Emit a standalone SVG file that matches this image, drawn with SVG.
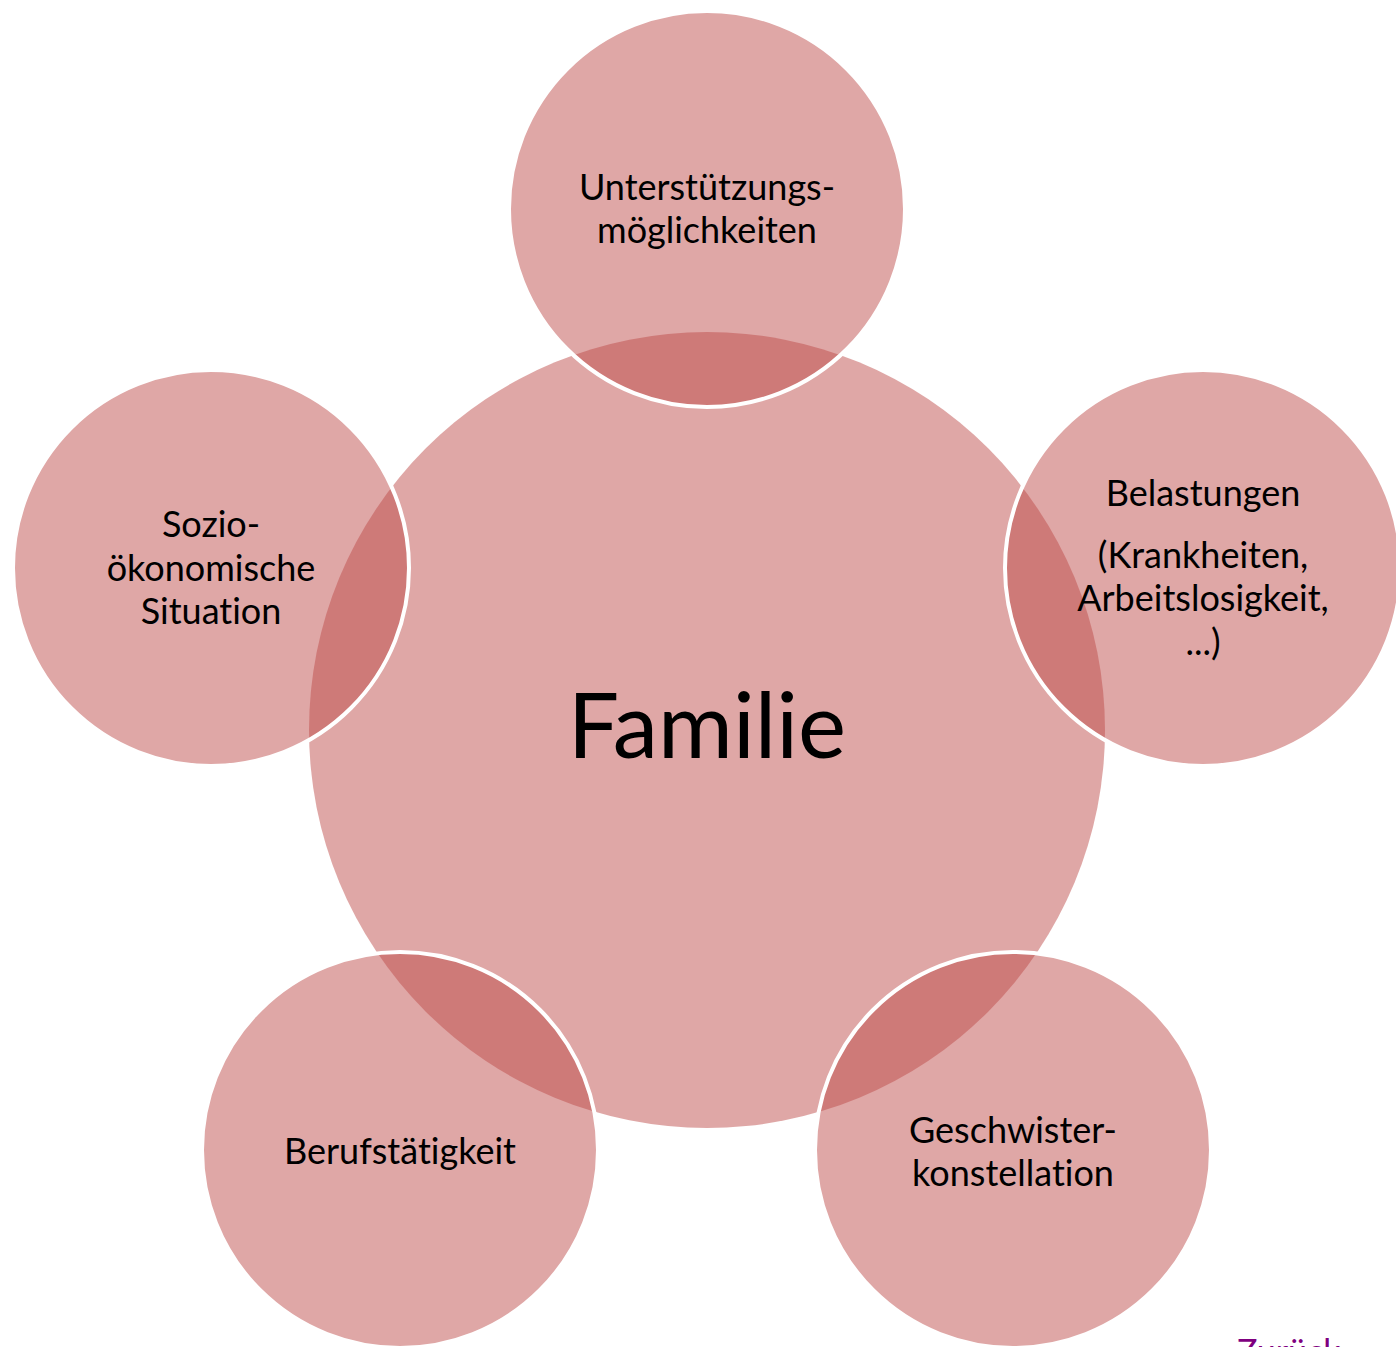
<svg xmlns="http://www.w3.org/2000/svg" width="1396" height="1347" viewBox="0 0 1396 1347">
<style>
.c{fill:#BD4A47;fill-opacity:0.485}
.s{stroke:#FFFFFF;stroke-width:4}
text{font-variant-ligatures:none}
.t{font-family:Lato,"Open Sans",sans-serif;font-size:36px;fill:#000;text-anchor:middle}
.big{font-family:Lato,"Open Sans",sans-serif;font-size:91px;fill:#000;text-anchor:middle}
</style>
<rect width="1396" height="1347" fill="#FFFFFF"/>
<g id="connectors"></g>
<g id="familie">
<circle class="c" cx="707" cy="730" r="398"/>
<text class="big" x="707" y="758">Familie</text>
</g>
<g id="unterstuetzung">
<circle class="c s" cx="707" cy="209" r="198"/>
<text class="t" x="707" y="200">Unterstützungs-</text>
<text class="t" x="707" y="243">möglichkeiten</text>
</g>
<g id="belastungen">
<circle class="c s" cx="1203" cy="568" r="198"/>
<text class="t" x="1203" y="506">Belastungen</text>
<text class="t" x="1203" y="568">(Krankheiten,</text>
<text class="t" x="1203" y="611">Arbeitslosigkeit,</text>
<text class="t" x="1203" y="655">...)</text>
</g>
<g id="geschwister">
<circle class="c s" cx="1013" cy="1150" r="198"/>
<text class="t" x="1013" y="1143">Geschwister-</text>
<text class="t" x="1013" y="1186">konstellation</text>
</g>
<g id="beruf">
<circle class="c s" cx="400" cy="1150" r="198"/>
<text class="t" x="400" y="1164">Berufstätigkeit</text>
</g>
<g id="sozio">
<circle class="c s" cx="211" cy="568" r="198"/>
<text class="t" x="211" y="537">Sozio-</text>
<text class="t" x="211" y="581">ökonomische</text>
<text class="t" x="211" y="624">Situation</text>
</g>
<text x="1237" y="1364" style="font-family:Lato,sans-serif;font-size:34px;fill:#7F007F">Zurück</text>
</svg>
